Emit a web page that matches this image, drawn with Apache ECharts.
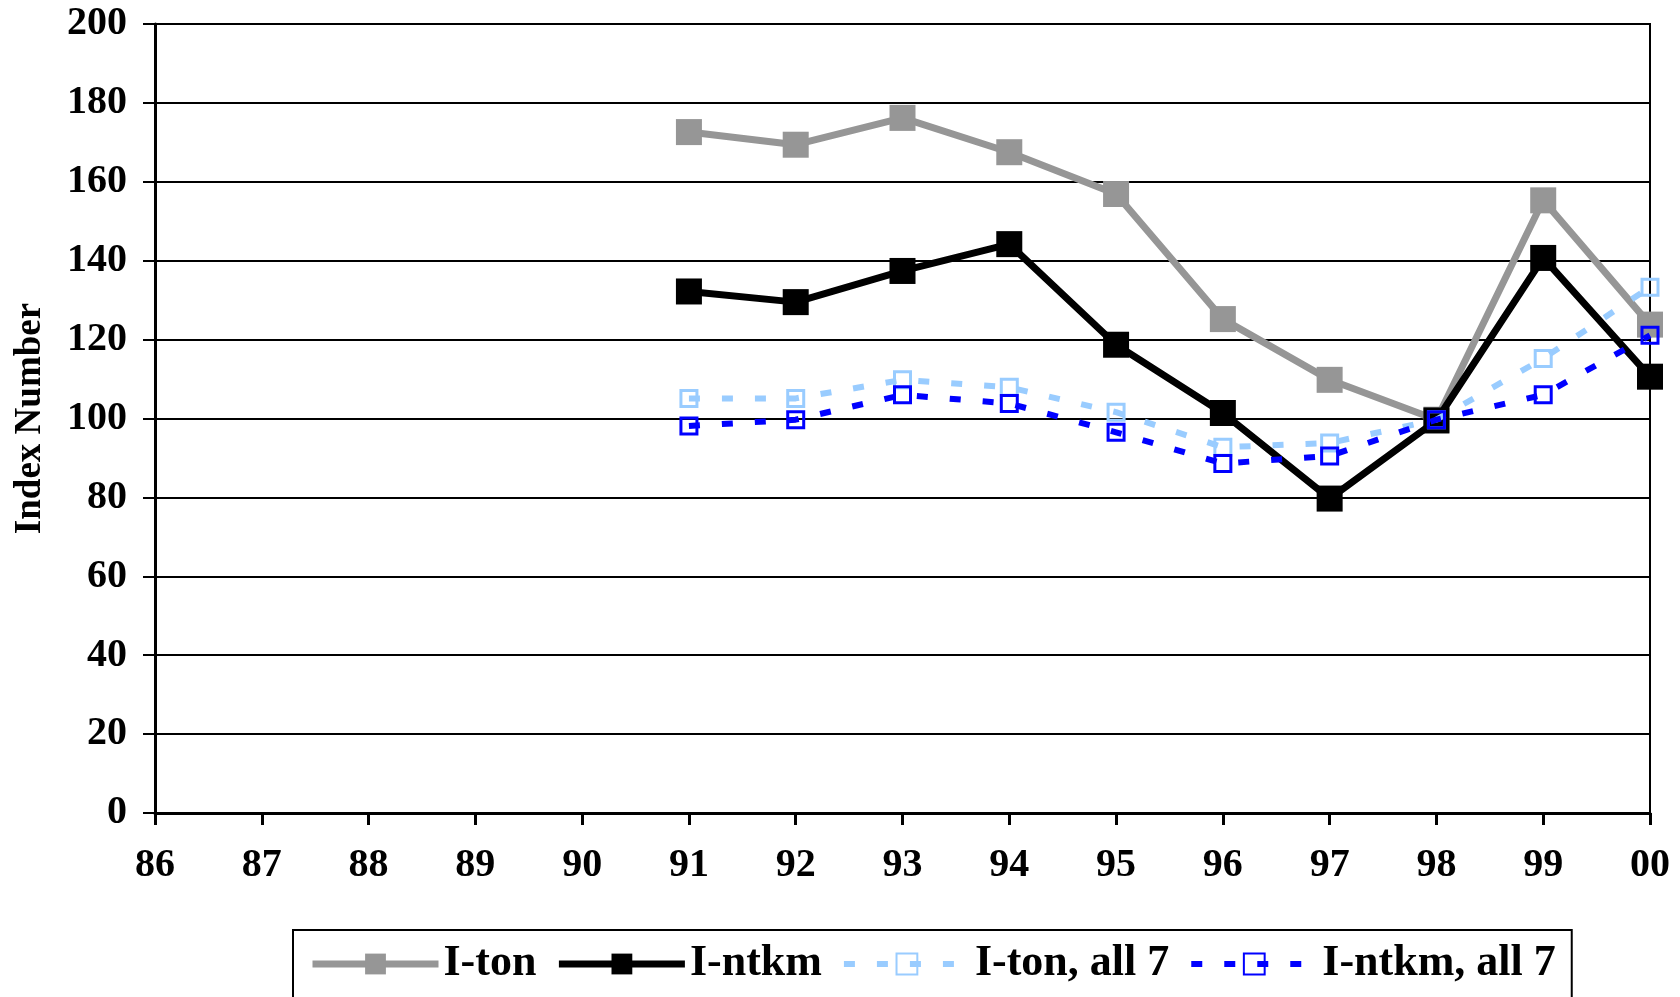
<!DOCTYPE html>
<html>
<head>
<meta charset="utf-8">
<script src="https://cdn.jsdelivr.net/npm/echarts@6/dist/echarts.min.js"></script>
<style>
html,body{margin:0;padding:0;background:#fff;}
#chart{width:1680px;height:997px;}
</style>
</head>
<body>
<div id="chart"></div>
<script>
const years = ['86','87','88','89','90','91','92','93','94','95','96','97','98','99','00'];
const iTon = [null,null,null,null,null,172.6,169.4,176.2,167.5,156.9,125.2,109.8,99.7,155.3,123.8];
const iNtkm = [null,null,null,null,null,132.2,129.5,137.4,144.2,118.7,101.4,79.7,99.5,140.7,110.6];
const iTonAll7 = [null,null,null,null,null,105.1,105.1,109.8,107.9,101.6,92.7,93.8,99.7,115.2,133.3];
const iNtkmAll7 = [null,null,null,null,null,98.1,99.7,106.0,103.8,96.5,88.6,90.5,99.7,106.0,121.1];

const FONT = '"Liberation Serif", "Times New Roman", serif';
const chart = echarts.init(document.getElementById('chart'));
chart.setOption({
  animation: false,
  backgroundColor: '#fff',
  grid: {left: 155, right: 30, top: 24, bottom: 184, show: true, borderColor: '#000', borderWidth: 2, backgroundColor: 'transparent'},
  legend: {
    left: 293, top: 930,
    padding: [12, 16, 30, 16],
    itemWidth: 126, itemHeight: 26, itemGap: 19,
    borderColor: '#000', borderWidth: 2,
    textStyle: {fontFamily: FONT, fontWeight: 'bold', fontSize: 44, color: '#000'},
    data: [
      {name: 'I-ton', lineStyle: {width: 7}},
      {name: 'I-ntkm', lineStyle: {width: 7}},
      {name: 'I-ton, all 7', lineStyle: {width: 6}},
      {name: 'I-ntkm, all 7', lineStyle: {width: 6}}
    ]
  },
  xAxis: {
    type: 'category', data: years, boundaryGap: false,
    axisLine: {lineStyle: {color: '#000', width: 3}},
    axisTick: {show: true, length: 12, lineStyle: {color: '#000', width: 3}},
    axisLabel: {fontFamily: FONT, fontWeight: 'bold', fontSize: 40, color: '#000', margin: 33},
    splitLine: {show: false}
  },
  yAxis: {
    type: 'value', min: 0, max: 200, interval: 20,
    name: 'Index Number', nameLocation: 'middle', nameGap: 106, nameRotate: 90,
    nameTextStyle: {fontFamily: FONT, fontWeight: 'bold', fontSize: 37, color: '#000'},
    axisLine: {show: true, lineStyle: {color: '#000', width: 3}},
    axisTick: {show: true, length: 12, lineStyle: {color: '#000', width: 2}},
    axisLabel: {fontFamily: FONT, fontWeight: 'bold', fontSize: 40, color: '#000', margin: 28},
    splitLine: {show: true, lineStyle: {color: '#000', width: 2}}
  },
  series: [
    {name: 'I-ton', type: 'line', data: iTon, symbol: 'rect', symbolSize: 26,
     lineStyle: {color: '#969696', width: 7}, itemStyle: {color: '#969696'}, z: 2},
    {name: 'I-ntkm', type: 'line', data: iNtkm, symbol: 'rect', symbolSize: 26,
     lineStyle: {color: '#000', width: 7}, itemStyle: {color: '#000'}, z: 3},
    {name: 'I-ton, all 7', type: 'line', data: iTonAll7, symbol: 'rect', symbolSize: 16,
     lineStyle: {color: '#99CCFF', width: 6, type: [11, 22]},
     itemStyle: {color: 'rgba(255,255,255,0)', borderColor: '#99CCFF', borderWidth: 3}, z: 4},
    {name: 'I-ntkm, all 7', type: 'line', data: iNtkmAll7, symbol: 'rect', symbolSize: 16,
     lineStyle: {color: '#0000FF', width: 6, type: [11, 22]},
     itemStyle: {color: 'rgba(255,255,255,0)', borderColor: '#0000FF', borderWidth: 3}, z: 5}
  ]
});
</script>
</body>
</html>
